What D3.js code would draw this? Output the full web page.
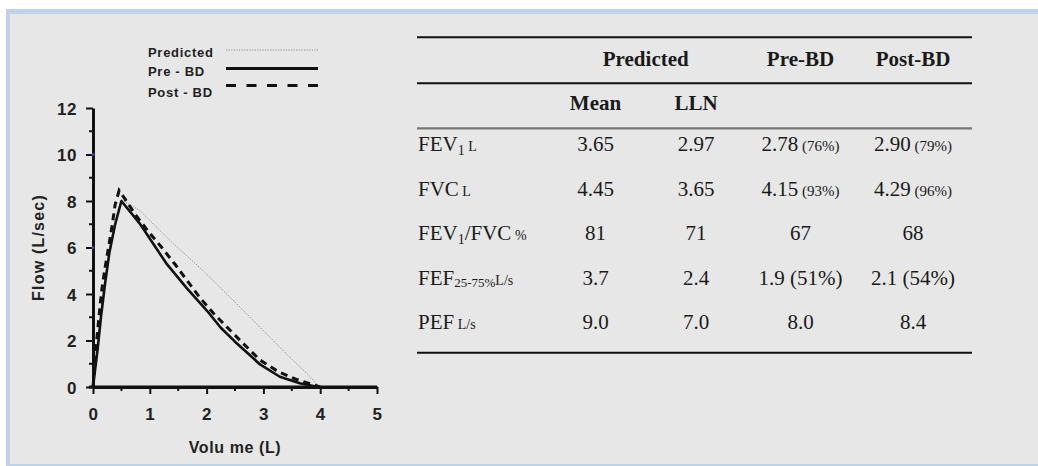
<!DOCTYPE html>
<html><head><meta charset="utf-8">
<script src="https://cdn.jsdelivr.net/npm/d3@7"></script>
<style>
html,body{margin:0;padding:0;background:#fff;}
svg{display:block;}
</style></head>
<body>
<svg id="c" width="1038" height="466"></svg>
<script>
// ---------------- data ----------------
const predictedVol  = [0, 0.05, 0.13, 0.28, 0.5, 0.82, 1.4, 1.94, 2.5, 3.05, 3.52, 3.8, 3.93, 4.0];
const predictedFlow = [0, 1.4, 3.0, 5.8, 8.05, 7.6, 6.2, 5.0, 3.65, 2.3, 1.15, 0.5, 0.15, 0];

const preVol  = [0, 0.03, 0.08, 0.14, 0.21, 0.29, 0.39, 0.5, 0.82, 1.29, 1.65, 2.0, 2.25, 2.5, 2.75, 2.94, 3.29, 3.64, 3.9, 4.0];
const preFlow = [0, 0.6, 1.6, 3.0, 4.4, 5.8, 7.0, 8.0, 7.04, 5.32, 4.25, 3.3, 2.55, 1.95, 1.4, 0.97, 0.44, 0.16, 0.03, 0];

const postVol  = [0, 0.05, 0.1, 0.15, 0.21, 0.28, 0.34, 0.39, 0.46, 0.56, 0.73, 0.97, 1.2, 1.44, 1.67, 1.88, 2.12, 2.41, 2.67, 2.94, 3.26, 3.58, 3.85, 4.0];
const postFlow = [0, 1.6, 2.9, 4.1, 5.1, 6.1, 7.0, 7.85, 8.45, 8.1, 7.47, 6.7, 6.03, 5.29, 4.53, 3.85, 3.17, 2.45, 1.81, 1.16, 0.66, 0.33, 0.12, 0];

const xTicks = [0, 1, 2, 3, 4, 5];
const yTicks = [0, 2, 4, 6, 8, 10, 12];
const blueMarks = [6, 10];

const legendLabels = ["Predicted", "Pre - BD", "Post - BD"];

const colHeaders = ["Pre-BD", "Post-BD"];
const subHeaders = ["Mean", "LLN"];
const predMean = ["3.65", "4.45", "81", "3.7", "9.0"];
const predLLN  = ["2.97", "3.65", "71", "2.4", "7.0"];
const preBD    = [["2.78", " (76%)"], ["4.15", " (93%)"], ["67", ""], ["1.9 (51%)", ""], ["8.0", ""]];
const postBD   = [["2.90", " (79%)"], ["4.29", " (96%)"], ["68", ""], ["2.1 (54%)", ""], ["8.4", ""]];
// row labels as [text, size-class] parts
const rowLabels = [
  [["FEV","n"],["1","sub"],[" L","u"]],
  [["FVC","n"],[" L","u"]],
  [["FEV","n"],["1","sub"],["/FVC","n"],[" %","u"]],
  [["FEF","n"],["25-75%","sub2"],["L/s","u"]],
  [["PEF","n"],[" L/s","u"]]
];

// ---------------- drawing ----------------
const svg = d3.select("#c");
// frame
svg.append("rect").attr("x",6).attr("y",9).attr("width",1040).attr("height",460).attr("fill","#c0d2e8");
svg.append("rect").attr("x",10).attr("y",14).attr("width",1030).attr("height",450).attr("fill","#e6e7e6");

const x = d3.scaleLinear().domain([0,5]).range([93,377]);
const y = d3.scaleLinear().domain([0,12]).range([387,108]);

const axisFont = "'Liberation Sans', Arial, sans-serif";
const g = svg.append("g");

// minor ticks
g.selectAll(".ymin").data(d3.range(1,12,2)).join("line")
  .attr("x1",x(0)-4).attr("x2",x(0)).attr("y1",d=>y(d)).attr("y2",d=>y(d))
  .attr("stroke","#111").attr("stroke-width",2);
g.selectAll(".xmin").data([0.5,1.5,2.5,3.5,4.5]).join("line")
  .attr("x1",d=>x(d)).attr("x2",d=>x(d)).attr("y1",y(0)).attr("y2",y(0)+4)
  .attr("stroke","#111").attr("stroke-width",2);

const yAxis = d3.axisLeft(y).tickValues(yTicks).tickSize(7).tickSizeOuter(0).tickPadding(9).tickFormat(d3.format("d"));
const xAxis = d3.axisBottom(x).tickValues(xTicks).tickSize(7).tickSizeOuter(0).tickPadding(14).tickFormat(d3.format("d"));

const ga = g.append("g").attr("transform",`translate(${x(0)},0)`).call(yAxis);
const gx = g.append("g").attr("transform",`translate(0,${y(0)})`).call(xAxis);
[ga,gx].forEach(a=>{
  a.select(".domain").attr("stroke","#111").attr("stroke-width",3);
  a.selectAll(".tick line").attr("stroke","#111").attr("stroke-width",2);
  a.selectAll(".tick text").attr("fill","#222").style("font-family",axisFont)
    .style("font-size","17px").style("font-weight","bold").style("letter-spacing","0.5px");
});
ga.selectAll(".tick text").attr("dy","0.36em");
g.append("line").attr("x1",x(0)-4).attr("x2",x(5)).attr("y1",y(0)).attr("y2",y(0)).attr("stroke","#111").attr("stroke-width",3);

g.selectAll(".bm").data(blueMarks).join("circle")
  .attr("cx",x(0)).attr("cy",d=>y(d)).attr("r",1.6).attr("fill","#3b4bb0");

// axis titles
svg.append("text").attr("transform",`translate(44,${(y(0)+y(12))/2}) rotate(-90)`)
  .attr("text-anchor","middle").attr("fill","#222")
  .style("font-family",axisFont).style("font-size","16px").style("font-weight","bold").style("letter-spacing","1.2px")
  .text("Flow (L/sec)");
svg.append("text").attr("x",(x(0)+x(5))/2).attr("y",453)
  .attr("text-anchor","middle").attr("fill","#222")
  .style("font-family",axisFont).style("font-size","16px").style("font-weight","bold").style("letter-spacing","0.6px")
  .text("Volu me (L)");

// curves
const line = d3.line().x(d=>x(d[0])).y(d=>y(d[1]));
const zipS = (a,b)=>a.map((v,i)=>[v,b[i]]);
g.append("path").datum(zipS(predictedVol,predictedFlow)).attr("d",line)
  .attr("fill","none").attr("stroke","#8a8a8a").attr("stroke-width",1).attr("stroke-dasharray","1.2,1.4");
g.append("path").datum(zipS(preVol,preFlow)).attr("d",line)
  .attr("fill","none").attr("stroke","#111").attr("stroke-width",2.6).attr("stroke-linejoin","round");
g.append("path").datum(zipS(postVol,postFlow)).attr("d",line)
  .attr("fill","none").attr("stroke","#111").attr("stroke-width",3).attr("stroke-dasharray","7,5");

// legend
const legY = [50, 68.5, 85.5];
const legTY = [57, 76, 97];
const legStyles = [
  {c:"#8a8a8a", w:1, da:"1.2,1.4"},
  {c:"#111", w:3, da:null},
  {c:"#111", w:3.2, da:"10,10.5"}
];
legendLabels.forEach((t,i)=>{
  svg.append("text").attr("x",148).attr("y",legTY[i]).attr("fill","#222")
    .style("font-family",axisFont).style("font-size","13px").style("font-weight","bold").style("letter-spacing","0.7px")
    .text(t);
  svg.append("line").attr("x1",226).attr("x2",318).attr("y1",legY[i]).attr("y2",legY[i])
    .attr("stroke",legStyles[i].c).attr("stroke-width",legStyles[i].w)
    .attr("stroke-dasharray",legStyles[i].da);
});

// ---------------- table ----------------
const serif = "'Liberation Serif','Times New Roman',serif";
const tL = 417, tR = 972;
const rules = [[37.3,"#111",2],[83.3,"#111",2],[128.3,"#777",2.2],[352.7,"#111",2]];
rules.forEach(r=>svg.append("line").attr("x1",tL).attr("x2",tR).attr("y1",r[0]).attr("y2",r[0])
  .attr("stroke",r[1]).attr("stroke-width",r[2]));

const colX = d3.scaleOrdinal().domain(["mean","lln","pre","post"]).range([595.5,696,800.5,913]);
const rowY = d3.scalePoint().domain(d3.range(5)).range([151,329]);

function tx(xp,yp,anchor,bold){
  return svg.append("text").attr("x",xp).attr("y",yp).attr("text-anchor",anchor).attr("fill","#1a1a1a")
    .style("font-family",serif).style("font-size","21px").style("font-weight",bold?"bold":"normal");
}
tx((colX("mean")+colX("lln"))/2, 65.5, "middle", true).text("Predicted");
tx(colX("pre"), 65.5, "middle", true).text(colHeaders[0]);
tx(colX("post"), 65.5, "middle", true).text(colHeaders[1]);
tx(colX("mean"), 110, "middle", true).text(subHeaders[0]);
tx(colX("lln"), 110, "middle", true).text(subHeaders[1]);

const sizes = {n:"21px", sub:"14px", sub2:"13px", u:"14px"};
rowLabels.forEach((parts,i)=>{
  const t = tx(tL+1, rowY(i), "start", false);
  parts.forEach((p,j)=>{
    const s = t.append("tspan").style("font-size",sizes[p[1]]).text(p[0]);
    const prev = j>0 ? parts[j-1][1] : null;
    let dy = 0;
    if(p[1]==="sub") dy += 4;
    if(p[1]==="sub2") dy += 2;
    if(prev==="sub") dy -= 4;
    if(prev==="sub2") dy -= 2;
    if(dy) s.attr("dy",dy);
  });
  tx(colX("mean"), rowY(i), "middle", false).text(predMean[i]);
  tx(colX("lln"), rowY(i), "middle", false).text(predLLN[i]);
  [["pre",preBD],["post",postBD]].forEach(([k,arr])=>{
    const t2 = tx(colX(k), rowY(i), "middle", false);
    t2.append("tspan").text(arr[i][0]);
    if(arr[i][1]) t2.append("tspan").style("font-size","15px").text(arr[i][1]);
  });
});
</script>
</body></html>
